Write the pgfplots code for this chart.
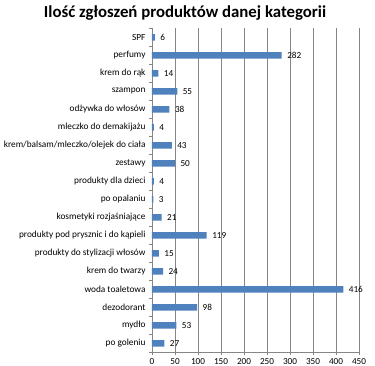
\documentclass[border=0pt]{standalone}
\usepackage{pgfplots}
\pgfplotsset{compat=1.18}
\usepackage{fontspec}
\setmainfont{Carlito}
\definecolor{barblue}{HTML}{4F81BD}
\definecolor{gridgray}{HTML}{868686}
\begin{document}
\begin{tikzpicture}[x=1pt,y=1pt]
\useasboundingbox (0,0) rectangle (375,366);
\begin{axis}[
  at={(152pt,13.7pt)}, anchor=south west,
  scale only axis, width=207pt, height=324pt,
  xbar, bar width=6.5pt,
  xmin=0, xmax=450,
  xtick={0,50,...,450},
  ymin=-0.5, ymax=17.5,
  y dir=reverse,
  ytick={0,...,17},
  yticklabels={SPF,perfumy,krem do rąk,szampon,odżywka do włosów,mleczko do demakijażu,krem/balsam/mleczko/olejek do ciała,zestawy,produkty dla dzieci,po opalaniu,kosmetyki rozjaśniające,produkty pod prysznic i do kąpieli,produkty do stylizacji włosów,krem do twarzy,woda toaletowa,dezodorant,mydło,po goleniu},
  y tick style={draw=none},
  extra y ticks={-0.5,0.5,...,17.5},
  extra y tick labels={},
  extra y tick style={y tick style={draw=gridgray}, tick style={draw=gridgray}, major tick length=3pt, tick align=outside, ymajorgrids=false},
  xmajorgrids,
  grid style={gridgray, line width=0.6pt},
  axis x line*=bottom,
  axis y line*=left,
  axis line style={gridgray, line width=0.6pt},
  x tick style={gridgray, line width=0.6pt},
  tick align=outside,
  major tick length=3pt,
  xticklabel style={font=\fontsize{9.2}{10}\selectfont, text=black},
  yticklabel style={font=\fontsize{9.3}{10}\selectfont, text=black},
  /pgf/number format/assume math mode=true,
  nodes near coords,
  nodes near coords style={font=\fontsize{9.2}{10}\selectfont, text=black, xshift=2pt},
  clip=false,
]
\addplot[fill=barblue, draw=none] coordinates {
(6,0) (282,1) (14,2) (55,3) (38,4) (4,5) (43,6) (50,7) (4,8) (3,9)
(21,10) (119,11) (15,12) (24,13) (416,14) (98,15) (53,16) (27,17)
};
\end{axis}
\node[font=\fontsize{16.8}{19}\selectfont\bfseries] at (185,353) {Ilość zgłoszeń produktów danej kategorii};
\end{tikzpicture}
\end{document}
